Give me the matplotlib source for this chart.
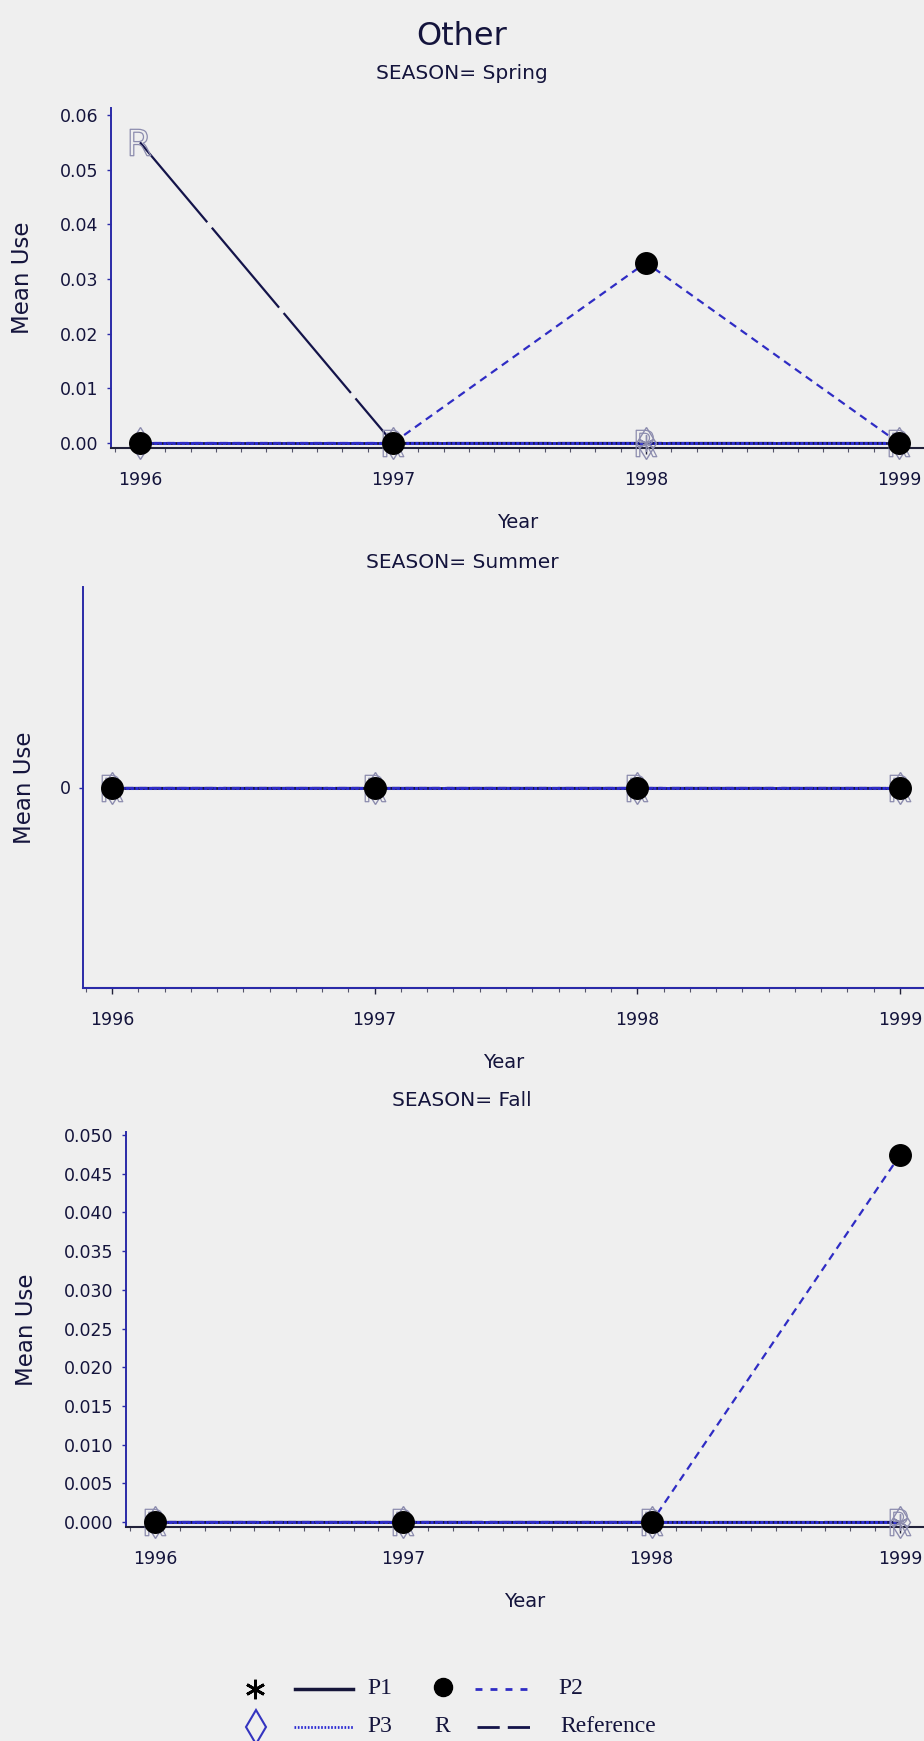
import matplotlib
matplotlib.use("Agg")
import matplotlib.pyplot as plt
from matplotlib.ticker import MultipleLocator

# ---- data -------------------------------------------------------------
years = [1996, 1997, 1998, 1999]
year_labels = ["1996", "1997", "1998", "1999"]

spring_p1 = [0.0, 0.0, 0.0, 0.0]
spring_p2 = [0.0, 0.0, 0.033, 0.0]
spring_p3 = [0.0, 0.0, 0.0, 0.0]
spring_ref = [0.055, 0.0, 0.0, 0.0]

summer_p1 = [0.0, 0.0, 0.0, 0.0]
summer_p2 = [0.0, 0.0, 0.0, 0.0]
summer_p3 = [0.0, 0.0, 0.0, 0.0]
summer_ref = [0.0, 0.0, 0.0, 0.0]

fall_p1 = [0.0, 0.0, 0.0, 0.0]
fall_p2 = [0.0, 0.0, 0.0, 0.0474]
fall_p3 = [0.0, 0.0, 0.0, 0.0]
fall_ref = [0.0, 0.0, 0.0, 0.0]

spring_yticks = [0.00, 0.01, 0.02, 0.03, 0.04, 0.05, 0.06]
spring_ylabels = ["0.00", "0.01", "0.02", "0.03", "0.04", "0.05", "0.06"]
summer_yticks = [0]
summer_ylabels = ["0"]
fall_yticks = [0.000, 0.005, 0.010, 0.015, 0.020, 0.025, 0.030,
               0.035, 0.040, 0.045, 0.050]
fall_ylabels = ["0.000", "0.005", "0.010", "0.015", "0.020", "0.025",
                "0.030", "0.035", "0.040", "0.045", "0.050"]

legend_names = ["P1", "P2", "P3", "Reference"]

# ---- style ------------------------------------------------------------
W, H = 924, 1741
BG = "#efefef"
TXT = "#14143c"
AXBLUE = "#2a2aa8"
AXDARK = "#22223a"
MINOR_C = "#55556a"
P1_C = "#16163a"
P2_C = "#2f2cc4"
P3_C = "#2b2bd2"
REF_C = "#14144a"
MARK_GREY = "#8c8cae"

plt.rcParams["font.family"] = ["DejaVu Sans"]

fig = plt.figure(figsize=(W / 100, H / 100), dpi=100, facecolor=BG)


def rect(left, top, right, bottom):
    return [left / W, 1 - bottom / H, (right - left) / W, (bottom - top) / H]


def draw_panel(box, xlim, ylim, yticks, ylabels, ylab_x, bottom_color,
               p1, p2, p3, ref):
    left, top, right, bottom = box
    ax = fig.add_axes(rect(*box))
    ax.set_facecolor("none")
    ax.set_xlim(*xlim)
    ax.set_ylim(*ylim)

    # series lines
    ax.plot(years, p1, color=P1_C, lw=2.0, ls="-", zorder=2, clip_on=False)
    ax.plot(years, ref, color=REF_C, lw=1.6, ls=(0, (47, 3.2)), zorder=2.2,
            clip_on=False)
    ax.plot(years, p3, color=P3_C, lw=2.2, ls=(0, (1, 0.5)), zorder=2.4,
            clip_on=False)
    ax.plot(years, p2, color=P2_C, lw=1.6, ls=(0, (3.5, 2.5)), zorder=2.6,
            clip_on=False)

    # series symbols
    ax.plot(years, p3, ls="none", marker="d", ms=16.5, mfc="none",
            mec=MARK_GREY, mew=1.0, zorder=3, clip_on=False)
    ax.plot(years, ref, ls="none", marker=r"$\mathrm{R}$", ms=19,
            mfc="none", mec=MARK_GREY, mew=0.9, zorder=3.1, clip_on=False)
    ax.plot(years, p1, ls="none", marker=(6, 2, 0), ms=12, mec=MARK_GREY,
            mew=1.0, zorder=3.2, clip_on=False)
    ax.plot(years, p2, ls="none", marker="o", ms=15.5, mfc="black",
            mec="black", zorder=3.3, clip_on=False)

    for s in ("top", "right"):
        ax.spines[s].set_visible(False)
    ax.spines["left"].set_color(AXBLUE)
    ax.spines["left"].set_linewidth(1.4)
    ax.spines["bottom"].set_color(bottom_color)
    ax.spines["bottom"].set_linewidth(1.5)

    ax.set_xticks(years)
    ax.set_xticklabels(year_labels)
    ax.xaxis.set_minor_locator(MultipleLocator(0.1))
    ax.tick_params(axis="x", which="major", direction="out", length=4,
                   width=1, color=AXDARK, pad=12.5, labelsize=12.5,
                   labelcolor=TXT)
    ax.tick_params(axis="x", which="minor", direction="out", length=3,
                   width=0.8, color=MINOR_C)

    ax.set_yticks(yticks)
    ax.set_yticklabels(ylabels)
    ax.tick_params(axis="y", which="major", direction="out", length=3,
                   width=1, color=AXBLUE, pad=6, labelsize=12.5,
                   labelcolor=TXT)

    w_px = right - left
    h_px = bottom - top
    ax.set_xlabel("Year", fontsize=14, color=TXT)
    ax.xaxis.set_label_coords(0.5, -80 / h_px)
    ax.xaxis.label.set_verticalalignment("baseline")

    ax.set_ylabel("Mean Use", fontsize=16.5, color=TXT)
    ax.yaxis.set_label_coords((ylab_x - left) / w_px, 0.5)
    ax.yaxis.label.set_verticalalignment("center")
    ax.yaxis.label.set_horizontalalignment("center")
    return ax


draw_panel((111, 108, 924, 448), (1995.8854, 1999.0988),
           (-0.000915, 0.06128), spring_yticks, spring_ylabels, 23, AXDARK,
           spring_p1, spring_p2, spring_p3, spring_ref)
draw_panel((83, 587, 924, 988), (1995.8896, 1999.0914),
           (-1.0, 1.0), summer_yticks, summer_ylabels, 25, AXBLUE,
           summer_p1, summer_p2, summer_p3, summer_ref)
draw_panel((126, 1132, 924, 1527), (1995.8832, 1999.0967),
           (-0.000646, 0.050388), fall_yticks, fall_ylabels, 27, AXDARK,
           fall_p1, fall_p2, fall_p3, fall_ref)

# ---- titles -----------------------------------------------------------
fig.text(0.5, 1 - 45 / H, "Other", ha="center", va="baseline",
         fontsize=23, color=TXT)
for season, base in (("Spring", 79), ("Summer", 568), ("Fall", 1106)):
    fig.text(0.5, 1 - base / H, "SEASON= " + season, ha="center",
             va="baseline", fontsize=14.5, color=TXT)

# ---- legend -----------------------------------------------------------
lax = fig.add_axes([0, 0, 1, 1])
lax.set_axis_off()
lax.set_xlim(0, W)
lax.set_ylim(H, 0)

row1, row2 = 1689, 1727
serif = dict(family=["Liberation Serif", "DejaVu Serif"], fontsize=17,
             color=TXT, va="center")

lax.plot([255], [row1], ls="none", marker=(6, 2, 0), ms=14, mec="black",
         mew=2.0)
lax.plot([295, 353], [row1, row1], color=P1_C, lw=2.5, ls="-")
lax.text(367, row1, legend_names[0], ha="left", **serif)

lax.plot([443], [row1 - 2], ls="none", marker="o", ms=13, mfc="black",
         mec="black")
lax.plot([475, 532], [row1, row1], color=P2_C, lw=2.0, ls=(0, (2.5, 2.9)))
lax.text(558, row1, legend_names[1], ha="left", **serif)

lax.plot([256], [row2], ls="none", marker="d", ms=17, mfc="none",
         mec="#3434c0", mew=1.5)
lax.plot([294, 353], [row2, row2], color=P3_C, lw=2.0, ls=(0, (0.6, 0.6)))
lax.text(367, row2, legend_names[2], ha="left", **serif)

lax.text(442, row2, "R", ha="center", **serif)
lax.plot([477, 533], [row2, row2], color=REF_C, lw=2.0, ls=(0, (8, 2.9)))
lax.text(560, row2, legend_names[3], ha="left", **serif)

fig.savefig("out.png", dpi=100, facecolor=BG)
